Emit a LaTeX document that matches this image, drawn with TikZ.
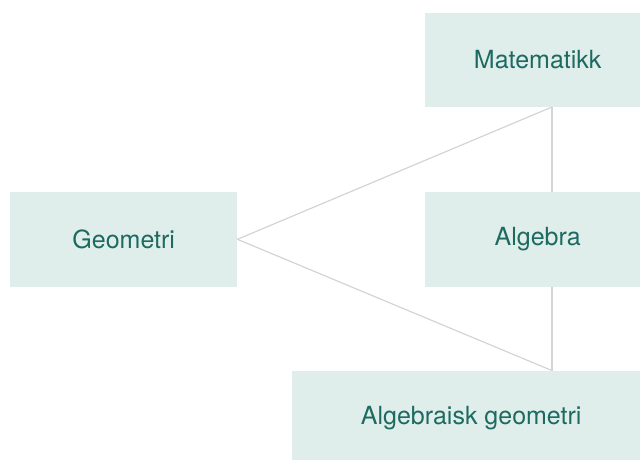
\documentclass[tikz,border=0pt]{standalone}
\usepackage{fontspec}
\setmainfont{TeX Gyre Heros}
\usepackage{xcolor}
\definecolor{boxfill}{HTML}{E0EEEB}
\definecolor{boxtext}{HTML}{1D6A61}
\definecolor{linkgray}{HTML}{D4D4D4}

\begin{document}
\begin{tikzpicture}[x=1pt, y=1pt,
  topic/.style={fill=boxfill, text=boxtext, font=\fontsize{25}{30}\selectfont,
    inner sep=0pt, anchor=south west, minimum height=95pt},
  link/.style={draw=linkgray, line width=1.2pt}]
  \useasboundingbox (0,0) rectangle (640,459);

  % boxes (the right ones run past the edge)
  \node[topic, minimum width=225pt, minimum height=94pt] (mat) at (425,352) {Matematikk};
  \node[topic, minimum width=227pt] (geo) at (10,172) {Geometri};
  \node[topic, minimum width=225pt] (alg) at (425,172) {Algebra};
  \node[topic, minimum width=358pt] (alggeo) at (292,-7) {Algebraisk geometri};

  % the links all meet on one vertical
  \coordinate (spine) at (552,0);

  \draw[link] (geo.east) -- (mat.south -| spine);
  \draw[link] (mat.south -| spine) -- (alg.north -| spine);
  \draw[link] (alg.south -| spine) -- (alggeo.north -| spine);
  \draw[link] (geo.east) -- (alggeo.north -| spine);

\end{tikzpicture}
\end{document}
